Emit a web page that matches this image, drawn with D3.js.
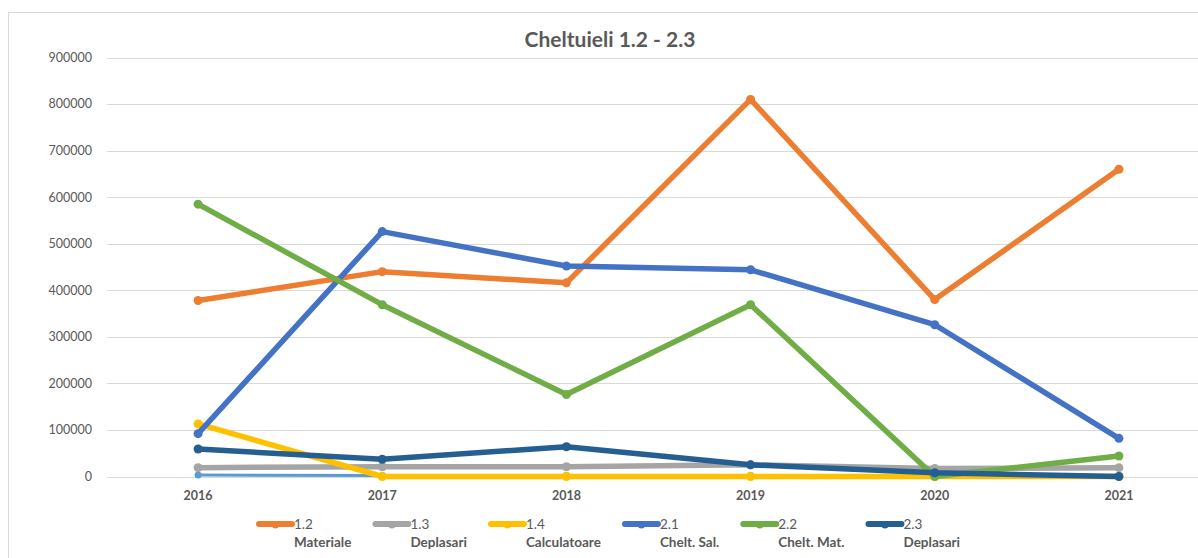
<!DOCTYPE html>
<html>
<head>
<meta charset="utf-8">
<script src="https://cdn.jsdelivr.net/npm/d3@7"></script>
<style>
  body { margin: 0; background: #fff; }
  text { font-family: Lato, "Liberation Sans", sans-serif; fill: #595959; }
</style>
</head>
<body>
<div id="chart"></div>
<script>
var svgWidth = 1198;
var svgHeight = 558;

var years = ['2016', '2017', '2018', '2019', '2020', '2021'];
var yTicks = [0, 100000, 200000, 300000, 400000, 500000, 600000, 700000, 800000, 900000];

// one array per budget line
var s11 = [3000, 2000, 2000, 2000, 2000, 2000];        // thin light blue, no legend entry
var s12 = [378000, 440000, 416000, 810000, 380000, 660000];
var s13 = [19000, 21000, 21000, 25000, 17000, 19000];
var s14 = [113000, 0, 0, 0, 0, 0];
var s21 = [92000, 526000, 452000, 444000, 326000, 82000];
var s22 = [585000, 369000, 176000, 369000, 0, 44000];
var s23 = [59000, 37000, 64000, 25000, 8000, 0];

var seriesCodes = ['1.2', '1.3', '1.4', '2.1', '2.2', '2.3'];
var seriesNames = ['Materiale', 'Deplasari', 'Calculatoare', 'Chelt. Sal.', 'Chelt. Mat.', 'Deplasari'];
var colors = ['#ED7D31', '#A5A5A5', '#FFC000', '#4472C4', '#70AD47', '#255E91'];

var series = [
    {values: s12, color: colors[0]},
    {values: s13, color: colors[1]},
    {values: s14, color: colors[2]},
    {values: s21, color: colors[3]},
    {values: s22, color: colors[4]},
    {values: s23, color: colors[5]}
];

var svg = d3.select('#chart')
    .append('svg')
    .attr('width', svgWidth)
    .attr('height', svgHeight);

// chart area border
svg.append('rect')
    .attr('x', 8.5)
    .attr('y', 12.5)
    .attr('width', 1250)
    .attr('height', 600)
    .attr('fill', 'none')
    .attr('stroke', '#d9d9d9');

var x = d3.scalePoint()
    .domain(years)
    .range([106, 1211])
    .padding(0.5);

var y = d3.scaleLinear()
    .domain([0, 900000])
    .range([476.5, 57.5]);

// gridlines + y labels
var yAxis = svg.append('g');
yAxis.selectAll('line')
    .data(yTicks)
    .enter()
    .append('line')
    .attr('x1', 107)
    .attr('x2', svgWidth)
    .attr('y1', d => Math.round(y(d)) + 0.5)
    .attr('y2', d => Math.round(y(d)) + 0.5)
    .attr('stroke', '#d9d9d9')
    .attr('stroke-width', 1);

yAxis.selectAll('text')
    .data(yTicks)
    .enter()
    .append('text')
    .attr('x', 92)
    .attr('y', d => y(d))
    .attr('dy', '0.35em')
    .attr('text-anchor', 'end')
    .style('font-size', '12.5px')
    .text(d => d);

// x labels
svg.append('g').selectAll('text')
    .data(years)
    .enter()
    .append('text')
    .attr('x', d => x(d))
    .attr('y', 496)
    .attr('dy', '0.35em')
    .attr('text-anchor', 'middle')
    .style('font-size', '12.5px')
    .style('font-weight', 'bold')
    .text(d => d);

// title
svg.append('text')
    .attr('x', 610)
    .attr('y', 40)
    .attr('dy', '0.35em')
    .attr('text-anchor', 'middle')
    .style('font-size', '21px')
    .style('font-weight', 'bold')
    .text('Cheltuieli 1.2 - 2.3');

var line = d3.line()
    .x((d, i) => x(years[i]))
    .y(d => y(d));

// thin light blue line drawn first
svg.append('path')
    .attr('d', line(s11))
    .attr('fill', 'none')
    .attr('stroke', '#5B9BD5')
    .attr('stroke-width', 3)
    .attr('stroke-linejoin', 'round');
svg.append('g').selectAll('circle')
    .data(s11)
    .enter()
    .append('circle')
    .attr('cx', (d, i) => x(years[i]))
    .attr('cy', d => y(d))
    .attr('r', 3.5)
    .attr('fill', '#5B9BD5');

series.forEach(function(s) {
    svg.append('path')
        .attr('d', line(s.values))
        .attr('fill', 'none')
        .attr('stroke', s.color)
        .attr('stroke-width', 5.5)
        .attr('stroke-linejoin', 'round')
        .attr('stroke-linecap', 'round');

    svg.append('g').selectAll('circle')
        .data(s.values)
        .enter()
        .append('circle')
        .attr('cx', (d, i) => x(years[i]))
        .attr('cy', d => y(d))
        .attr('r', 4.5)
        .attr('fill', s.color);
});

// legend
var legend = svg.append('g');
var lx = 258;
seriesCodes.forEach(function(code, i) {
    var item = legend.append('g').attr('transform', `translate(${lx}, 0)`);
    item.append('line')
        .attr('x1', 1)
        .attr('x2', 34)
        .attr('y1', 524)
        .attr('y2', 524)
        .attr('stroke', colors[i])
        .attr('stroke-width', 6)
        .attr('stroke-linecap', 'round');
    item.append('circle')
        .attr('cx', 17.5)
        .attr('cy', 525)
        .attr('r', 3.5)
        .attr('fill', colors[i]);
    item.append('text')
        .attr('x', 36)
        .attr('y', 524)
        .attr('dy', '0.35em')
        .style('font-size', '13.5px')
        .text(code);
    var name = item.append('text')
        .attr('x', 36)
        .attr('y', 542)
        .attr('dy', '0.35em')
        .style('font-size', '13.5px')
        .style('font-weight', 'bold')
        .text(seriesNames[i]);
    lx += 38 + name.node().getComputedTextLength() + 21;
});
</script>
</body>
</html>
